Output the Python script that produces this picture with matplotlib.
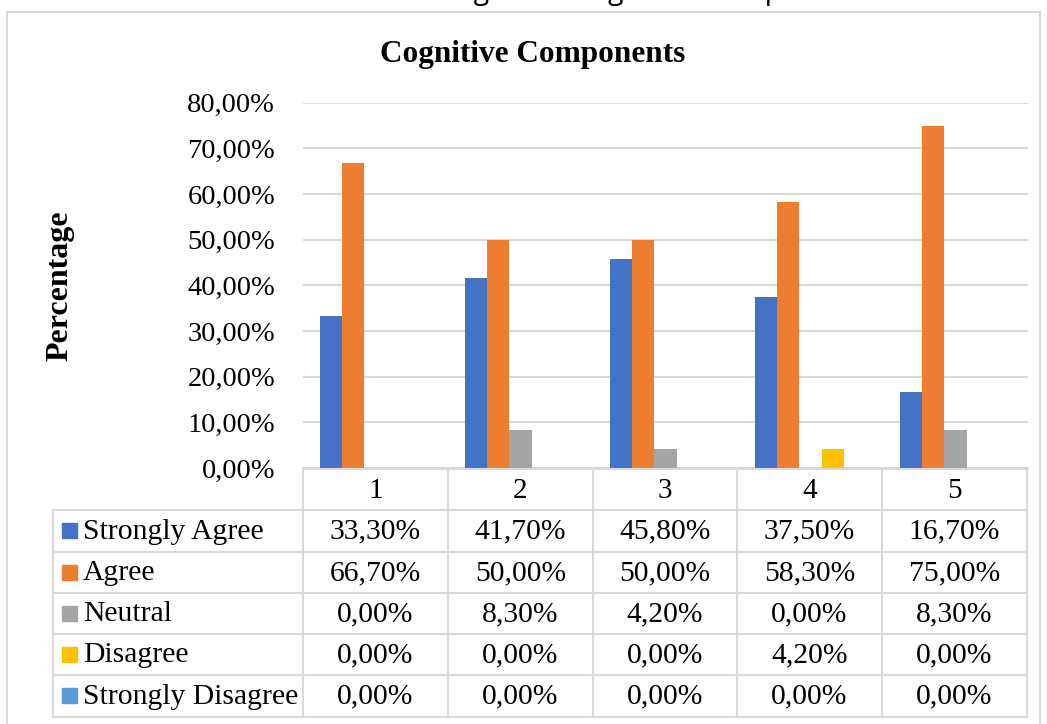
import matplotlib.pyplot as plt
from matplotlib.lines import Line2D
from matplotlib.patches import Rectangle

# dados do grafico
categorias = ['1', '2', '3', '4', '5']
series = ['Strongly Agree', 'Agree', 'Neutral', 'Disagree', 'Strongly Disagree']
cores = ['#4472C4', '#ED7D31', '#A5A5A5', '#FFC000', '#5B9BD5']
strongly_agree = [33.3, 41.7, 45.8, 37.5, 16.7]
agree = [66.7, 50.0, 50.0, 58.3, 75.0]
neutral = [0.0, 8.3, 4.2, 0.0, 8.3]
disagree = [0.0, 0.0, 0.0, 4.2, 0.0]
strongly_disagree = [0.0, 0.0, 0.0, 0.0, 0.0]
valores = [strongly_agree, agree, neutral, disagree, strongly_disagree]
yticks = [0, 10, 20, 30, 40, 50, 60, 70, 80]

W, H = 1047, 724
plt.rcParams['font.family'] = 'Liberation Serif'
fig = plt.figure(figsize=(W / 100, H / 100), dpi=100)


def fx(px):
    return px / W


def fy(py):
    return 1 - py / H


def pct(v):
    return f'{v:.2f}%'.replace('.', ',')


# moldura do grafico
fig.add_artist(Rectangle((fx(7), fy(740)), fx(1040) - fx(7), fy(12) - fy(740),
                         transform=fig.transFigure, fill=False,
                         edgecolor='#d9d9d9', lw=1.5))

# legenda da figura cortada no topo (so aparecem os descendentes)
fig.text(fx(452), fy(-1.5), 'Figure 1: Cognitive Components', family='Open Sans',
         fontsize=20.5, ha='left', va='baseline', color='black')

ax = fig.add_axes([fx(303), fy(468), fx(1028) - fx(303), fy(102.7) - fy(468)])
n = len(series)
larg = 0.152
for i, (nome, vals) in enumerate(zip(series, valores)):
    xs = [j + 0.5 + (i - (n - 1) / 2) * larg for j in range(len(categorias))]
    ax.bar(xs, vals, width=larg, color=cores[i], label=nome, zorder=3)

ax.set_xlim(0, len(categorias))
ax.set_ylim(0, 80)
ax.set_yticks(yticks)
ax.set_yticklabels([pct(v) for v in yticks], fontsize=20.5)
ax.set_xticks([])
ax.tick_params(axis='y', length=0, pad=20)
ax.grid(axis='y', color='#d9d9d9', lw=1.5, zorder=0)
for s in ['top', 'right', 'left']:
    ax.spines[s].set_visible(False)
ax.spines['bottom'].set_color('#d9d9d9')
ax.spines['bottom'].set_linewidth(1.5)

fig.text(fx(533), fy(62), 'Cognitive Components', fontsize=22.5, fontweight='bold',
         ha='center', va='baseline')
fig.text(fx(60), fy(286), 'Percentage', fontsize=23, fontweight='bold',
         rotation=90, ha='center', va='center')

# tabela de dados
cols = [303, 448, 593, 737, 882, 1027]
linhas = [469, 510, 551.5, 592.5, 634, 675, 716.5]
esq = 53
cinza = '#d9d9d9'


def linha(x0, y0, x1, y1):
    fig.add_artist(Line2D([fx(x0), fx(x1)], [fy(y0), fy(y1)], color=cinza,
                          lw=1.5, transform=fig.transFigure))


linha(cols[0], linhas[0], cols[-1], linhas[0])
for yy in linhas[1:]:
    linha(esq, yy, cols[-1], yy)
for xx in cols:
    linha(xx, linhas[0], xx, linhas[-1])
linha(esq, linhas[1], esq, linhas[-1])

for j, cat in enumerate(categorias):
    cx = (cols[j] + cols[j + 1]) / 2
    fig.text(fx(cx), fy((linhas[0] + linhas[1]) / 2 + 1), cat, fontsize=21,
             ha='center', va='center')

for i, (nome, vals) in enumerate(zip(series, valores)):
    cy = (linhas[i + 1] + linhas[i + 2]) / 2
    fig.add_artist(Rectangle((fx(62), fy(cy + 7.5)), fx(15), 15 / H,
                             transform=fig.transFigure, color=cores[i]))
    fig.text(fx(83), fy(cy + 1), nome, fontsize=21.3, ha='left', va='center')
    for j, v in enumerate(vals):
        cx = (cols[j] + cols[j + 1]) / 2
        fig.text(fx(cx), fy(cy + 1), pct(v), fontsize=21.3, ha='center', va='center')

fig.savefig('out.png', dpi=100)
